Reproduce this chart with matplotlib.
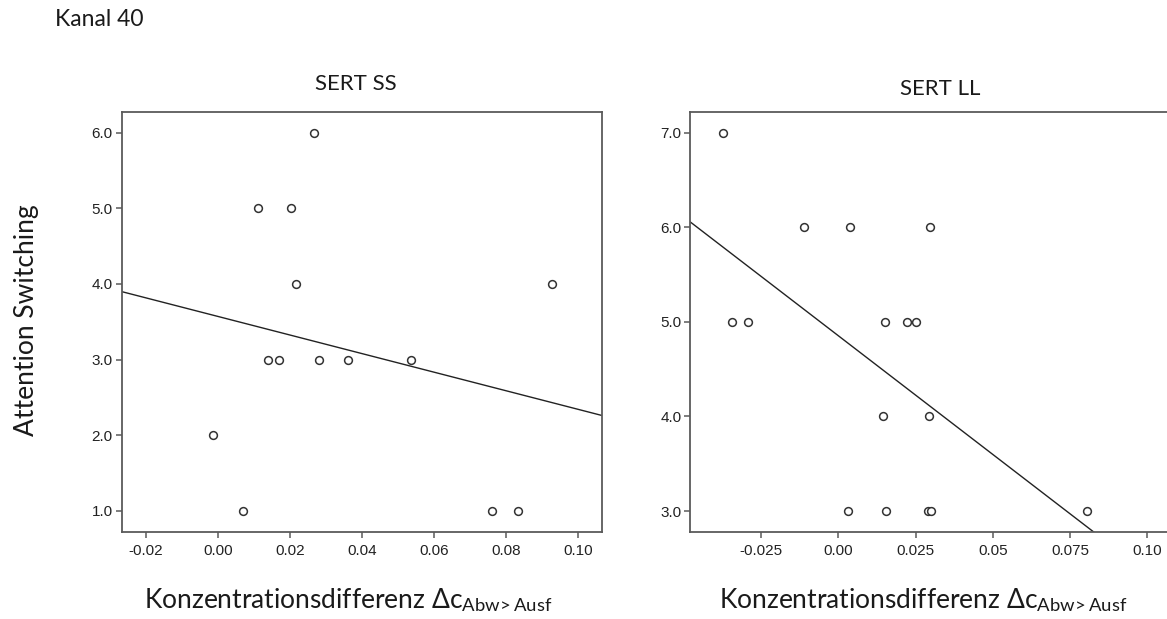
import numpy as np
import matplotlib
matplotlib.use("Agg")
import matplotlib.pyplot as plt

# SERT SS
ss_x = [0.0268, 0.0113, 0.0203, 0.0218, 0.0928, 0.0141, 0.0169, 0.0281,
        0.0363, 0.0536, -0.0014, 0.0070, 0.0762, 0.0835]
ss_y = [6, 5, 5, 4, 4, 3, 3, 3, 3, 3, 2, 1, 1, 1]

# SERT LL
ll_x = [-0.0374, -0.0111, 0.0038, 0.0296, -0.0343, -0.0292, 0.0152, 0.0222,
        0.0251, 0.0144, 0.0294, 0.0031, 0.0155, 0.0289, 0.0301, 0.0805]
ll_y = [7, 6, 6, 6, 5, 5, 5, 5, 5, 4, 4, 3, 3, 3, 3, 3]

ss_xticks = [-0.02, 0.00, 0.02, 0.04, 0.06, 0.08, 0.10]
ss_xticklabels = ["-0.02", "0.00", "0.02", "0.04", "0.06", "0.08", "0.10"]
ss_yticks = [1, 2, 3, 4, 5, 6]
ll_xticks = [-0.025, 0.0, 0.025, 0.05, 0.075, 0.10]
ll_xticklabels = ["-0.025", "0.00", "0.025", "0.05", "0.075", "0.10"]
ll_yticks = [3, 4, 5, 6, 7]

plt.rcParams['font.family'] = ['Lato', 'DejaVu Sans']
plt.rcParams['mathtext.fontset'] = 'custom'
plt.rcParams['mathtext.rm'] = 'Lato'
plt.rcParams['mathtext.it'] = 'Lato:italic'

tick_font = ['Liberation Sans Narrow', 'Liberation Sans', 'DejaVu Sans']
spine_col = '#5a5a5a'
txt_col = '#1a1a1a'

fig = plt.figure(figsize=(11.67, 6.19), dpi=100)
ax1 = fig.add_axes([0.1043, 0.1410, 0.4113, 0.6776])
ax2 = fig.add_axes([0.5916, 0.1410, 0.4110, 0.6785])


def draw(ax, x, y, xlim, ylim, xticks, xticklabels, yticks):
    x = np.array(x)
    y = np.array(y)
    ax.plot(x, y, linestyle='none', marker='o', ms=5.6, mfc='white',
            mec='#333333', mew=1.1, zorder=3)
    # linear fit line
    k, d = np.polyfit(x, y, 1)
    xs = np.array(xlim)
    ax.plot(xs, k * xs + d, color='#222222', lw=1.0, zorder=2)
    ax.set_xlim(xlim)
    ax.set_ylim(ylim)
    ax.set_xticks(xticks)
    ax.set_xticklabels(xticklabels)
    ax.set_yticks(yticks)
    ax.set_yticklabels(["%.1f" % v for v in yticks])
    for s in ax.spines.values():
        s.set_color(spine_col)
        s.set_linewidth(1.3)
    ax.tick_params(direction='out', length=4.5, width=1.1, color=spine_col,
                   labelsize=11, labelcolor='#222222')
    ax.tick_params(axis='y', pad=2)
    ax.tick_params(axis='x', pad=4)
    for lab in ax.get_xticklabels() + ax.get_yticklabels():
        lab.set_family(tick_font)


draw(ax1, ss_x, ss_y, (-0.02667, 0.10667), (0.722, 6.27),
     ss_xticks, ss_xticklabels, ss_yticks)
draw(ax2, ll_x, ll_y, (-0.0478, 0.1073), (2.781, 7.222),
     ll_xticks, ll_xticklabels, ll_yticks)
ax2.spines['right'].set_visible(False)

fig.text(0.0469, 0.9677, "Kanal 40", ha='left', va='center', fontsize=16.5, color=txt_col)
fig.text(0.305, 0.8643, "SERT SS", ha='center', va='center', fontsize=16, color=txt_col)
fig.text(0.8055, 0.8562, "SERT LL", ha='center', va='center', fontsize=16, color=txt_col)
fig.text(0.0231, 0.483, "Attention Switching", ha='center', va='center',
         rotation=90, fontsize=19, color=txt_col)

xlab = r"Konzentrationsdifferenz $\Delta$c$_{\mathrm{Abw\!>Ausf}}$"
fig.text(0.2982, 0.0178, xlab, ha='center', va='baseline', fontsize=19, color=txt_col)
fig.text(0.7909, 0.0178, xlab, ha='center', va='baseline', fontsize=19, color=txt_col)

fig.savefig("out.png", dpi=100)
